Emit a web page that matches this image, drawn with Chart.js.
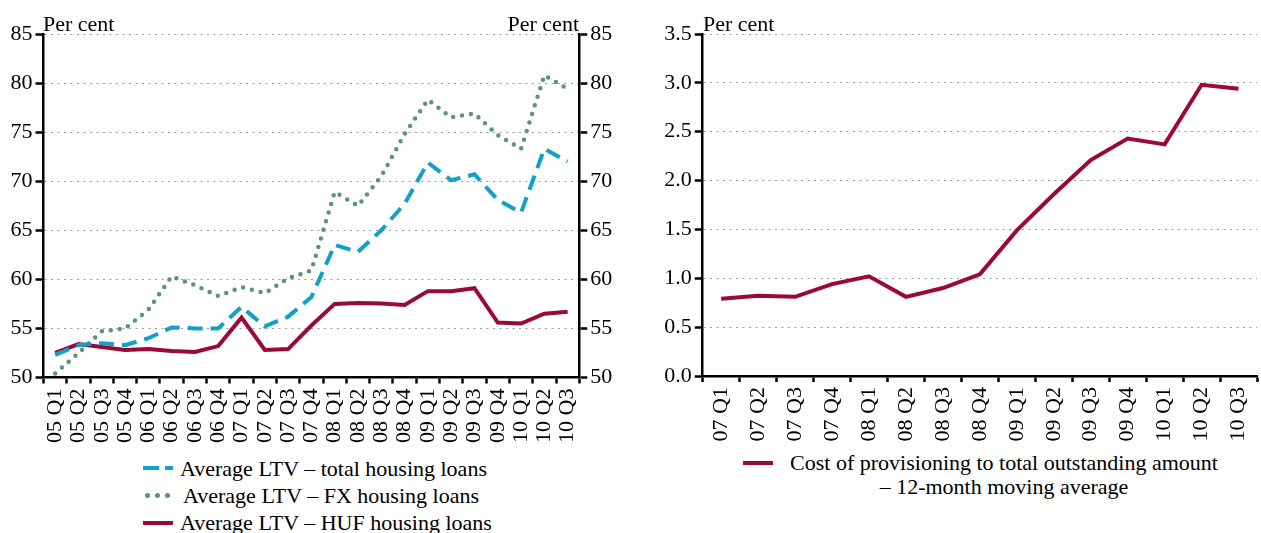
<!DOCTYPE html>
<html>
<head>
<meta charset="utf-8">
<script src="https://cdn.jsdelivr.net/npm/chart.js@4/dist/chart.umd.min.js"></script>
<style>
  body { margin: 0; width: 1261px; height: 533px; overflow: hidden; position: relative; background: #fff;
         font-family: 'Liberation Serif', serif; color: #000; }
  canvas { position: absolute; top: 0; }
  .lbl { position: absolute; font-size: 22px; line-height: 22px; white-space: nowrap; }
  .row { position: absolute; left: 143px; height: 27px; font-size: 22px; line-height: 27px; white-space: nowrap; }
  .sw { position: absolute; }
</style>
</head>
<body>
<canvas id="left" width="630" height="450" style="left:0"></canvas>
<canvas id="right" width="640" height="450" style="left:630px"></canvas>

<div class="lbl" style="left:43px; top:13px">Per cent</div>
<div class="lbl" style="right:682px; top:13px">Per cent</div>
<div class="lbl" style="left:703px; top:13px">Per cent</div>

<div id="legendLeft"></div>
<div id="legendRight"></div>

<script>
// left panel: average loan-to-value of new housing loans
const quartersLeft = ['05 Q1', '05 Q2', '05 Q3', '05 Q4', '06 Q1', '06 Q2', '06 Q3', '06 Q4',
  '07 Q1', '07 Q2', '07 Q3', '07 Q4', '08 Q1', '08 Q2', '08 Q3', '08 Q4',
  '09 Q1', '09 Q2', '09 Q3', '09 Q4', '10 Q1', '10 Q2', '10 Q3'];
const ltvTotal = [52.3, 53.3, 53.5, 53.3, 54.0, 55.1, 55.0, 55.0, 57.2, 55.2, 56.2, 58.2,
  63.5, 62.8, 65.0, 67.7, 71.9, 70.1, 70.7, 68.1, 66.8, 73.3, 72.0];
const ltvFx = [50.4, 52.5, 54.7, 55.0, 56.9, 60.3, 59.4, 58.3, 59.2, 58.6, 60.1, 60.9,
  68.9, 67.5, 70.5, 74.8, 78.3, 76.5, 76.9, 74.7, 73.3, 80.8, 79.4];
const ltvHuf = [52.5, 53.4, 53.1, 52.8, 52.9, 52.7, 52.6, 53.2, 56.1, 52.8, 52.9, 55.3,
  57.5, 57.6, 57.55, 57.4, 58.8, 58.8, 59.1, 55.6, 55.5, 56.5, 56.7];
const leftTicks = [50, 55, 60, 65, 70, 75, 80, 85];

// right panel: cost of provisioning
const quartersRight = ['07 Q1', '07 Q2', '07 Q3', '07 Q4', '08 Q1', '08 Q2', '08 Q3', '08 Q4',
  '09 Q1', '09 Q2', '09 Q3', '09 Q4', '10 Q1', '10 Q2', '10 Q3'];
const provisioning = [0.79, 0.82, 0.81, 0.94, 1.02, 0.81, 0.90, 1.04, 1.49, 1.86, 2.21, 2.43, 2.37, 2.98, 2.94];
const rightTicks = [0, 0.5, 1, 1.5, 2, 2.5, 3, 3.5];

const legendLeftNames = ['Average LTV – total housing loans', 'Average LTV – FX housing loans', 'Average LTV – HUF housing loans'];
const legendRightName = ['Cost of provisioning to total outstanding amount', '– 12-month moving average'];

const BLUE = '#12a0c9';
const GREEN = '#5a9479';
const RED = '#9a0a35';
const GRID = '#9a9a9a';

Chart.defaults.font.family = "'Liberation Serif', serif";
Chart.defaults.color = '#000';
Chart.defaults.animation = false;

function xAxis(height) {
  return {
    type: 'category',
    offset: true,
    grid: { offset: true, drawOnChartArea: false, tickLength: 6, tickColor: '#000', tickWidth: 2.5 },
    border: { color: '#000', width: 2.5 },
    ticks: { autoSkip: false, minRotation: 90, maxRotation: 90, padding: 5, font: { size: 22 } },
    afterFit: s => { s.height = height; }
  };
}

function yAxis(pos, min, max, step, width, onArea, fmt) {
  return {
    position: pos,
    min: min, max: max,
    ticks: { stepSize: step, padding: 3, font: { size: 22 }, callback: fmt },
    grid: { drawOnChartArea: onArea, color: GRID, lineWidth: 1, tickLength: 8, tickColor: '#000', tickWidth: 2.5 },
    border: { color: '#000', width: 2.5, dash: [2, 4.5] },
    afterFit: s => { s.width = width; }
  };
}

new Chart(document.getElementById('left'), {
  type: 'line',
  data: {
    labels: quartersLeft,
    datasets: [
      { label: legendLeftNames[0], data: ltvTotal, borderColor: BLUE, borderWidth: 4, borderDash: [15, 8], yAxisID: 'y' },
      { label: legendLeftNames[1], data: ltvFx, borderColor: GREEN, borderWidth: 4.5, borderDash: [0, 9], borderCapStyle: 'round', yAxisID: 'y' },
      { label: legendLeftNames[2], data: ltvHuf, borderColor: RED, borderWidth: 4, yAxisID: 'y' }
    ]
  },
  options: {
    responsive: false,
    layout: { padding: { top: 34, left: 0, right: 0, bottom: 0 } },
    elements: { point: { radius: 0 }, line: { tension: 0, fill: false } },
    plugins: { legend: { display: false }, tooltip: { enabled: false } },
    scales: {
      x: xAxis(72.5),
      y: yAxis('left', leftTicks[0], leftTicks[leftTicks.length - 1], 5, 43.5, true),
      y1: yAxis('right', leftTicks[0], leftTicks[leftTicks.length - 1], 5, 50.7, false)
    }
  }
});

new Chart(document.getElementById('right'), {
  type: 'line',
  data: {
    labels: quartersRight,
    datasets: [
      { label: legendRightName.join(' '), data: provisioning, borderColor: RED, borderWidth: 4 }
    ]
  },
  options: {
    responsive: false,
    layout: { padding: { top: 34, left: 0, right: 2, bottom: 0 } },
    elements: { point: { radius: 0 }, line: { tension: 0, fill: false } },
    plugins: { legend: { display: false }, tooltip: { enabled: false } },
    scales: {
      x: xAxis(74),
      y: yAxis('left', rightTicks[0], rightTicks[rightTicks.length - 1], 0.5, 72.7, true, v => v.toFixed(1))
    }
  }
});

// legends in html
const ll = document.getElementById('legendLeft');
const rowTops = [454.5, 481.5, 509];
legendLeftNames.forEach((name, i) => {
  const row = document.createElement('div');
  row.className = 'row';
  row.style.top = rowTops[i] + 'px';
  let sw = '';
  if (i === 0) {
    sw = `<span class="sw" style="left:0;top:11.5px;width:16px;height:4px;background:${BLUE}"></span>` +
         `<span class="sw" style="left:22px;top:11.5px;width:8px;height:4px;background:${BLUE}"></span>`;
  } else if (i === 1) {
    sw = [2, 12, 22].map(x => `<span class="sw" style="left:${x}px;top:11px;width:5px;height:5px;border-radius:50%;background:${GREEN}"></span>`).join('');
  } else {
    sw = `<span class="sw" style="left:0;top:11.5px;width:30px;height:4px;background:${RED}"></span>`;
  }
  row.innerHTML = sw + `<span style="position:absolute;left:${i === 1 ? 40 : 37}px">${name}</span>`;
  ll.appendChild(row);
});

const lr = document.getElementById('legendRight');
lr.innerHTML = `<span class="sw" style="left:743px;top:461px;width:30px;height:4px;background:${RED}"></span>` +
  `<div style="position:absolute;left:784px;width:440px;top:451px;font-size:22px;line-height:23.5px;text-align:center;white-space:nowrap">` +
  legendRightName.join('<br>') + `</div>`;
</script>
</body>
</html>
